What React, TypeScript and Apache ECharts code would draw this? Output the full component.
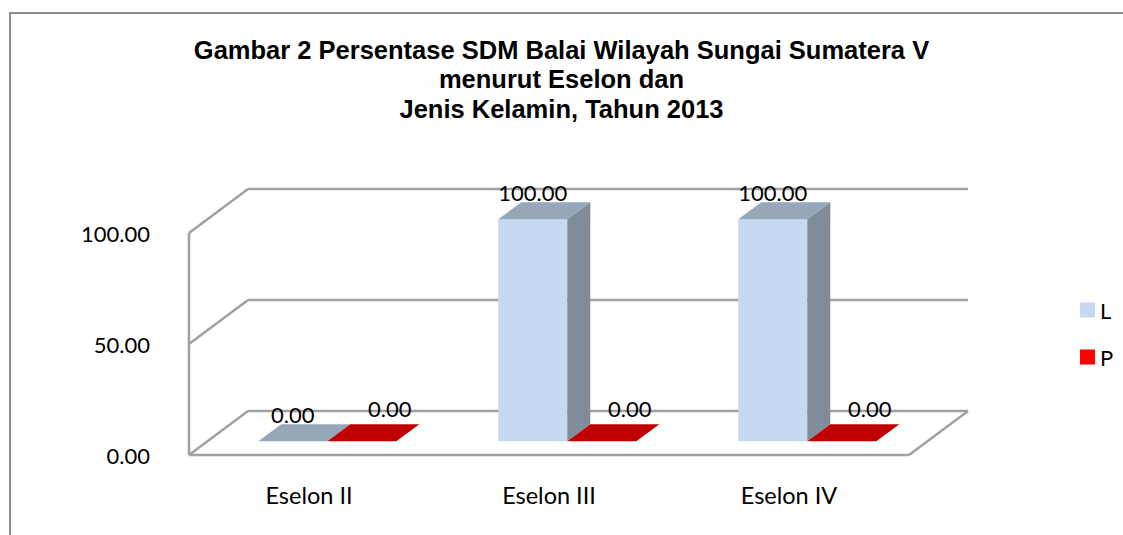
import React, { useEffect, useRef } from "react";
import * as echarts from "echarts";

const categories = ["Eselon II", "Eselon III", "Eselon IV"];
const seriesL = [0, 100, 100];
const seriesP = [0, 0, 0];
const yTicks = [0, 50, 100];
const titleLines = [
  "Gambar 2 Persentase SDM Balai Wilayah Sungai Sumatera V",
  "menurut Eselon dan",
  "Jenis Kelamin, Tahun 2013",
];

// 3D projection constants (depth offset of the whole plot box)
const DX = 59;
const DY = -44;
const F0 = 0.31; // bar front depth fraction
const F1 = 0.7; // bar back depth fraction
const BAR_FRAC = 0.2875;
const LABEL_FONT = "Lato";
const GRID_COLOR = "#A0A0A0";

const faces = {
  L: { front: "#C6D9F1", side: "#7F8C9C", top: "#97A7BA", legend: "#C6D9F1" },
  P: { front: "#FF0000", side: "#A00000", top: "#C00000", legend: "#FF0000" },
};

function makeBarRender(side: number, c: { front: string; side: string; top: string }) {
  return (params: any, api: any) => {
    const i = api.value(0);
    const v = api.value(1);
    const base = api.coord([i, 0]);
    const topP = api.coord([i, v]);
    const band = api.size([1, 0])[0];
    const bw = band * BAR_FRAC;
    const x0 = base[0] + (side === 0 ? -bw : 0) + F0 * DX;
    const x1 = x0 + bw;
    const yb = base[1] + F0 * DY;
    const yt = topP[1] + F0 * DY;
    const ddx = (F1 - F0) * DX;
    const ddy = (F1 - F0) * DY;
    const children: any[] = [];
    if (yb - yt > 0.5) {
      children.push({
        type: "polygon",
        shape: { points: [[x0, yb], [x1, yb], [x1, yt], [x0, yt]] },
        style: { fill: c.front },
      });
      children.push({
        type: "polygon",
        shape: { points: [[x1, yb], [x1, yt], [x1 + ddx, yt + ddy], [x1 + ddx, yb + ddy]] },
        style: { fill: c.side },
      });
    }
    children.push({
      type: "polygon",
      shape: { points: [[x0, yt], [x1, yt], [x1 + ddx, yt + ddy], [x0 + ddx, yt + ddy]] },
      style: { fill: c.top },
    });
    const lx = (x0 + x1) / 2 + (side === 1 ? 28 : 0);
    const baseline = yt + ddy - (side === 1 ? 9 : 3);
    children.push({
      type: "text",
      z2: 10,
      style: {
        text: Number(v).toFixed(2),
        x: lx,
        y: baseline + 4,
        align: "center",
        verticalAlign: "bottom",
        textAlign: "center",
        textVerticalAlign: "bottom",
        fill: "#000",
        fontSize: 22,
        fontFamily: LABEL_FONT,
      },
    });
    return { type: "group", children };
  };
}

function renderFrame(params: any, api: any) {
  const v = api.value(1);
  const cs = params.coordSys;
  const left = cs.x;
  const right = cs.x + cs.width;
  const y = api.coord([0, v])[1];
  const ls = { stroke: GRID_COLOR, lineWidth: 2.5 };
  const children: any[] = [
    { type: "line", shape: { x1: left, y1: y, x2: left + DX, y2: y + DY }, style: ls },
    { type: "line", shape: { x1: left + DX, y1: y + DY, x2: right + DX, y2: y + DY }, style: ls },
  ];
  if (v === yTicks[0]) {
    children.push({ type: "line", shape: { x1: left, y1: y, x2: right, y2: y }, style: ls });
    children.push({ type: "line", shape: { x1: right, y1: y, x2: right + DX, y2: y + DY }, style: ls });
    children.push({ type: "line", shape: { x1: left, y1: y, x2: left, y2: cs.y }, style: ls });
  }
  return { type: "group", children };
}

export default function App() {
  const ref = useRef<HTMLDivElement>(null);
  useEffect(() => {
    if (!ref.current) return;
    const chart = echarts.init(ref.current, undefined, { renderer: "svg" });
    chart.setOption({
      animation: false,
      backgroundColor: "#FFFFFF",
      title: {
        text: titleLines.join("\n"),
        left: "center",
        top: 30,
        textStyle: {
          fontFamily: "Liberation Sans",
          fontWeight: "bold",
          fontSize: 25.5,
          lineHeight: 29.5,
          color: "#000",
        },
      },
      legend: {
        data: ["L", "P"],
        orient: "vertical",
        left: 1075,
        top: 294,
        icon: "rect",
        itemWidth: 15,
        itemHeight: 15,
        itemGap: 25,
        textStyle: { fontFamily: LABEL_FONT, fontSize: 22, color: "#000" },
      },
      grid: { left: 189, right: 214, top: 233, bottom: 80 },
      xAxis: {
        type: "category",
        data: categories,
        axisLine: { show: false },
        axisTick: { show: false },
        splitLine: { show: false },
        axisLabel: { fontFamily: LABEL_FONT, fontSize: 23.5, color: "#000", margin: 28 },
      },
      yAxis: {
        type: "value",
        min: 0,
        max: 100,
        interval: 50,
        axisLine: { show: false },
        axisTick: { show: false },
        splitLine: { show: false },
        axisLabel: {
          fontFamily: LABEL_FONT,
          fontSize: 22,
          color: "#000",
          margin: 39,
          formatter: (val: number) => val.toFixed(2),
        },
      },
      graphic: [
        {
          type: "rect",
          shape: { x: 10, y: 13, width: 1300, height: 700 },
          style: { fill: "none", stroke: "#8C8C8C", lineWidth: 2 },
          silent: true,
          z: -10,
        },
      ],
      series: [
        {
          type: "custom",
          name: "frame",
          renderItem: renderFrame,
          data: yTicks.map((t) => [0, t]),
          encode: { x: 0, y: 1 },
          z: 1,
          silent: true,
        },
        {
          type: "custom",
          name: "L",
          renderItem: makeBarRender(0, faces.L),
          itemStyle: { color: faces.L.legend },
          data: seriesL.map((v, i) => [i, v]),
          encode: { x: 0, y: 1 },
          z: 2,
        },
        {
          type: "custom",
          name: "P",
          renderItem: makeBarRender(1, faces.P),
          itemStyle: { color: faces.P.legend },
          data: seriesP.map((v, i) => [i, v]),
          encode: { x: 0, y: 1 },
          z: 3,
        },
      ],
    });
    return () => chart.dispose();
  }, []);
  return (
    <div
      ref={ref}
      style={{ position: "absolute", left: 0, top: 0, width: 1123, height: 535, background: "#fff" }}
    />
  );
}
